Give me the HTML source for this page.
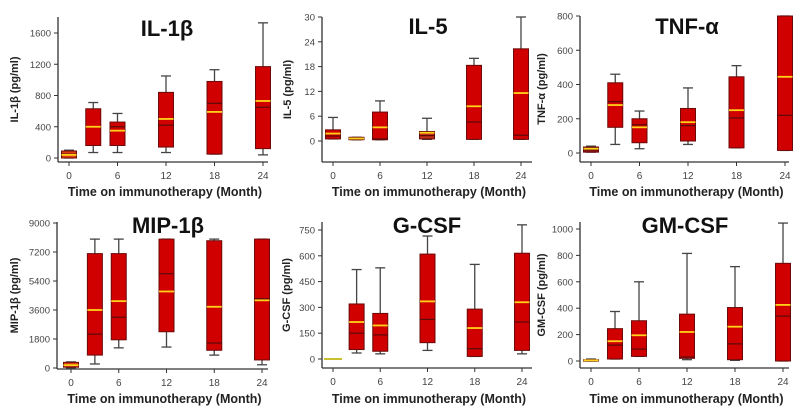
<!DOCTYPE html>
<html><head><meta charset="utf-8">
<style>
html,body{margin:0;padding:0;background:#fff;}
svg{display:block;font-family:"Liberation Sans",Arial,sans-serif;}
</style></head>
<body>
<svg id="fig" width="800" height="414" viewBox="0 0 800 414" xmlns="http://www.w3.org/2000/svg"></svg>
<script>
// Shared categories
const months = [0, 3, 6, 12, 18, 24];
const xTickLabels = ["0", "6", "12", "18", "24"];

// IL-1beta
const il1Lo = [0, 70, 70, 70, 50, 40];
const il1Q1 = [0, 160, 160, 140, 50, 120];
const il1Med = [50, 400, 400, 420, 700, 650];
const il1Mean = [40, 400, 350, 500, 590, 730];
const il1Q3 = [90, 630, 460, 840, 980, 1170];
const il1Hi = [100, 710, 570, 1050, 1130, 1730];
const il1Ticks = [0, 400, 800, 1200, 1600];

// IL-5
const il5Lo = [0.5, 0.3, 0.3, 0.4, 0.4, 0.4];
const il5Q1 = [0.5, 0.3, 0.3, 0.5, 0.4, 0.4];
const il5Med = [1.2, 0.6, 0.5, 1.3, 4.6, 1.4];
const il5Mean = [1.8, 0.6, 3.3, 2.0, 8.4, 11.6];
const il5Q3 = [2.7, 0.9, 7.0, 2.3, 18.3, 22.3];
const il5Hi = [5.7, 0.9, 9.7, 5.5, 20, 30];
const il5Ticks = [0, 6, 12, 18, 24, 30];

// TNF-alpha
const tnfLo = [5, 50, 25, 50, 30, 15];
const tnfQ1 = [5, 150, 60, 70, 30, 15];
const tnfMed = [20, 300, 165, 160, 205, 220];
const tnfMean = [25, 280, 150, 180, 250, 445];
const tnfQ3 = [35, 410, 200, 260, 445, 800];
const tnfHi = [40, 460, 245, 380, 510, 800];
const tnfTicks = [0, 200, 400, 600, 800];

// MIP-1beta
const mipLo = [0, 250, 1250, 1300, 800, 200];
const mipQ1 = [50, 800, 1750, 2250, 1100, 500];
const mipMed = [200, 2100, 3150, 5850, 1550, 4300];
const mipMean = [180, 3600, 4150, 4750, 3800, 4200];
const mipQ3 = [350, 7100, 7100, 8000, 7900, 8000];
const mipHi = [380, 8000, 8000, 8000, 8000, 8000];
const mipTicks = [0, 1800, 3600, 5400, 7200, 9000];

// G-CSF
const gLo = [0, 35, 30, 50, 15, 30];
const gQ1 = [0, 55, 45, 95, 15, 50];
const gMed = [0, 150, 140, 230, 60, 215];
const gMean = [0, 215, 195, 335, 180, 330];
const gQ3 = [0, 320, 265, 610, 290, 615];
const gHi = [0, 520, 530, 715, 550, 780];
const gTicks = [0, 150, 300, 450, 600, 750];

// GM-CSF
const gmLo = [0, 15, 35, 10, 5, 0];
const gmQ1 = [0, 15, 35, 20, 10, 0];
const gmMed = [5, 120, 90, 30, 130, 340];
const gmMean = [5, 150, 195, 220, 260, 425];
const gmQ3 = [10, 245, 305, 355, 405, 740];
const gmHi = [15, 375, 600, 815, 715, 1045];
const gmTicks = [0, 200, 400, 600, 800, 1000];

const RED = "#d00000", ORANGE = "#e03a10", DARK = "#8a1515", OLIVE = "#b8a23a";

const panels = [
  {key:"il1b", title:"IL-1\u03b2", ylab:"IL-1\u03b2 (pg/ml)", lo:il1Lo,q1:il1Q1,med:il1Med,mean:il1Mean,q3:il1Q3,hi:il1Hi,ticks:il1Ticks,
   ax:58, top:17, base:162, right:268, x0:69, x24:263, y0:158, ymaxPx:33, ymax:1600, ylx:18, tx:167, ty:36, timeY:196,
   colors:[ORANGE,RED,RED,RED,RED,RED], noBox:[]},
  {key:"il5", title:"IL-5", ylab:"IL-5 (pg/ml)", lo:il5Lo,q1:il5Q1,med:il5Med,mean:il5Mean,q3:il5Q3,hi:il5Hi,ticks:il5Ticks,
   ax:322, top:17, base:162, right:532, x0:333, x24:521, y0:141, ymaxPx:17, ymax:30, ylx:291, tx:428, ty:34, timeY:196,
   colors:[RED,OLIVE,RED,"#c03018",RED,RED], noBox:[]},
  {key:"tnfa", title:"TNF-\u03b1", ylab:"TNF-\u03b1 (pg/ml)", lo:tnfLo,q1:tnfQ1,med:tnfMed,mean:tnfMean,q3:tnfQ3,hi:tnfHi,ticks:tnfTicks,
   ax:580, top:16, base:162, right:789, x0:591, x24:785, y0:153, ymaxPx:16, ymax:800, ylx:545, tx:687, ty:34, timeY:196,
   colors:[DARK,RED,RED,RED,RED,RED], noBox:[]},
  {key:"mip1b", title:"MIP-1\u03b2", ylab:"MIP-1\u03b2 (pg/ml)", lo:mipLo,q1:mipQ1,med:mipMed,mean:mipMean,q3:mipQ3,hi:mipHi,ticks:mipTicks,
   ax:57, top:222, base:369, right:268, x0:71, x24:262, y0:368, ymaxPx:223, ymax:9000, ylx:18, tx:168, ty:233, timeY:403,
   colors:[ORANGE,RED,RED,RED,RED,RED], noBox:[]},
  {key:"gcsf", title:"G-CSF", ylab:"G-CSF (pg/ml)", lo:gLo,q1:gQ1,med:gMed,mean:gMean,q3:gQ3,hi:gHi,ticks:gTicks,
   ax:322, top:222, base:368, right:532, x0:333, x24:522, y0:359, ymaxPx:230, ymax:750, ylx:290, tx:427, ty:233, timeY:403,
   colors:[OLIVE,RED,RED,RED,RED,RED], noBox:[0]},
  {key:"gmcsf", title:"GM-CSF", ylab:"GM-CSF (pg/ml)", lo:gmLo,q1:gmQ1,med:gmMed,mean:gmMean,q3:gmQ3,hi:gmHi,ticks:gmTicks,
   ax:580, top:222, base:368, right:789, x0:591, x24:783, y0:361, ymaxPx:229, ymax:1000, ylx:545, tx:685, ty:233, timeY:403,
   colors:[OLIVE,RED,RED,RED,RED,RED], noBox:[]}
];

const NS = "http://www.w3.org/2000/svg";
const svg = document.getElementById("fig");
function mk(tag, attrs, parent, text){
  const e = document.createElementNS(NS, tag);
  for (const k in attrs) e.setAttribute(k, attrs[k]);
  if (text !== undefined) e.textContent = text;
  parent.appendChild(e);
  return e;
}

panels.forEach(p => {
  const g = mk("g", {}, svg);
  
  
  const xs = m => p.x0 + (p.x24 - p.x0) * m / 24;
  const ys = v => p.y0 + (p.ymaxPx - p.y0) * v / p.ymax;

  // axes
  const ya = mk("line", {x1:p.ax, y1:p.top, x2:p.ax, y2:p.base, stroke:"#333", "stroke-width":1.3}, g);
  
  
  const xa = mk("line", {x1:p.ax, y1:p.base, x2:p.right, y2:p.base, stroke:"#333", "stroke-width":1.3}, g);
  
  

  // y ticks
  p.ticks.forEach(t => {
    const y = ys(t);
    mk("line", {x1:p.ax-4, y1:y, x2:p.ax, y2:y, stroke:"#333", "stroke-width":1}, g);
    const tl = mk("text", {x:p.ax-7, y:y+3.5, "font-size":9.5, fill:"#444", "text-anchor":"end"}, g, String(t));
    
    
  });
  // x ticks
  xTickLabels.forEach(l => {
    const x = xs(+l);
    mk("line", {x1:x, y1:p.base, x2:x, y2:p.base+4, stroke:"#333", "stroke-width":1}, g);
    const tl = mk("text", {x:x, y:p.base+17, "font-size":10, fill:"#444", "text-anchor":"middle"}, g, l);
    
    
  });

  // boxes
  months.forEach((m, i) => {
    const x = xs(m), w = 15;
    const bg = mk("g", {}, g);
    
    
    if (p.noBox.indexOf(i) >= 0) {
      mk("line", {x1:x-9, y1:ys(p.mean[i]), x2:x+9, y2:ys(p.mean[i]), stroke:"#c8c030", "stroke-width":2}, bg);
      return;
    }
    const yHi = ys(p.hi[i]), yLo = ys(p.lo[i]), yQ3 = ys(p.q3[i]), yQ1 = ys(p.q1[i]);
    mk("line", {x1:x, y1:yHi, x2:x, y2:yQ3, stroke:"#444", "stroke-width":1.3}, bg);
    mk("line", {x1:x, y1:yQ1, x2:x, y2:yLo, stroke:"#444", "stroke-width":1.3}, bg);
    mk("line", {x1:x-5, y1:yHi, x2:x+5, y2:yHi, stroke:"#444", "stroke-width":1.3}, bg);
    mk("line", {x1:x-5, y1:yLo, x2:x+5, y2:yLo, stroke:"#444", "stroke-width":1.3}, bg);
    mk("rect", {x:x-w/2, y:yQ3, width:w, height:Math.max(1.5, yQ1-yQ3), fill:p.colors[i], stroke:"#6a0a0a", "stroke-width":1}, bg);
    mk("line", {x1:x-w/2, y1:ys(p.med[i]), x2:x+w/2, y2:ys(p.med[i]), stroke:"#5a0a0a", "stroke-width":1.2}, bg);
    mk("line", {x1:x-w/2, y1:ys(p.mean[i]), x2:x+w/2, y2:ys(p.mean[i]), stroke:"#ffd21a", "stroke-width":1.8}, bg);
  });

  // title
  const tt = mk("text", {x:p.tx, y:p.ty, "font-size":22, "font-weight":"bold", fill:"#111", "text-anchor":"middle"}, g, p.title);
  
  
  // y label
  const yc = (p.top + p.base) / 2;
  const yl = mk("text", {x:p.ylx, y:yc, "font-size":11, "font-weight":"bold", fill:"#222", "text-anchor":"middle",
    transform:"rotate(-90 " + p.ylx + " " + yc + ")"}, g, p.ylab);
  
  
  // x label
  const xl = mk("text", {x:(p.ax + p.right) / 2 + 2, y:p.timeY, "font-size":12.5, "font-weight":"bold", fill:"#222", "text-anchor":"middle"}, g, "Time on immunotherapy (Month)");
  
  
});
</script>
</body></html>
